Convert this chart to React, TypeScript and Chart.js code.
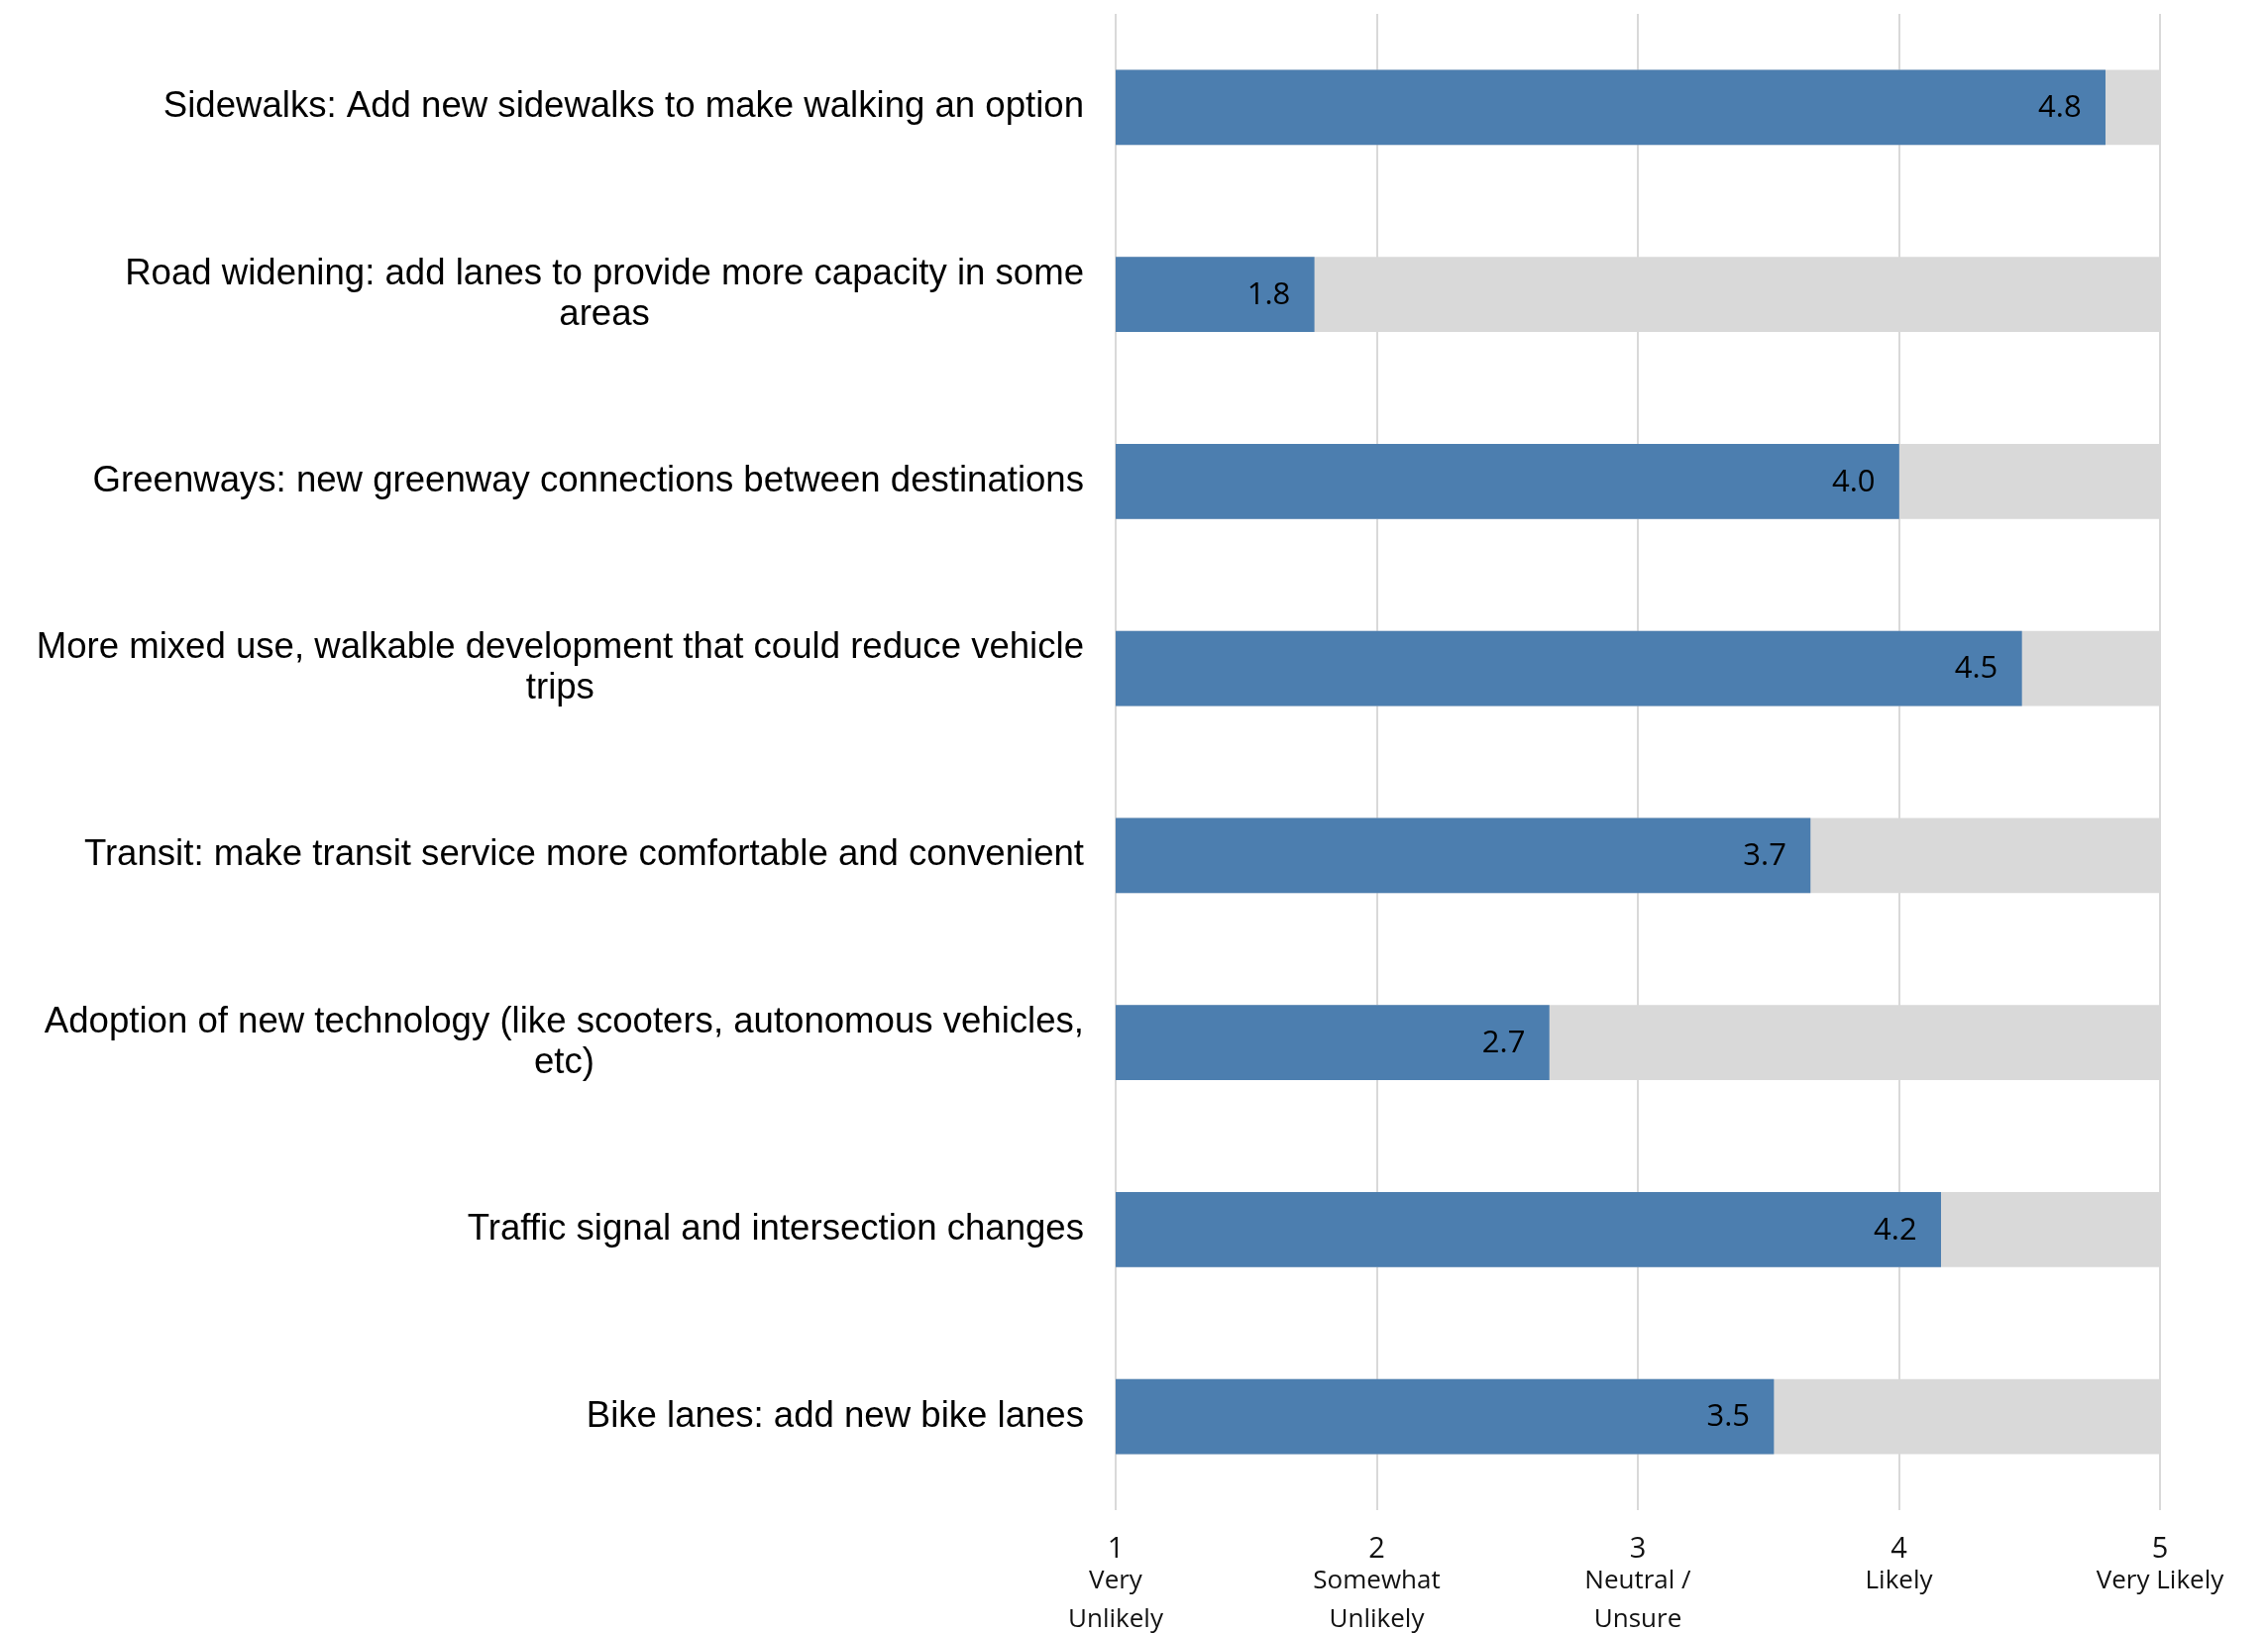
import React, { useEffect, useRef } from "react";
import { Chart, registerables } from "chart.js";

Chart.register(...registerables);

const categories: (string | string[])[] = [
  "Sidewalks: Add new sidewalks to make walking an option",
  ["Road widening: add lanes to provide more capacity in some", "areas"],
  "Greenways: new greenway connections between destinations",
  ["More mixed use, walkable development that could reduce vehicle", "trips"],
  "Transit: make transit service more comfortable and convenient",
  ["Adoption of new technology (like scooters, autonomous vehicles,", "etc)"],
  "Traffic signal and intersection changes",
  "Bike lanes: add new bike lanes",
];

const scores = [4.79, 1.76, 4.0, 4.47, 3.66, 2.66, 4.16, 3.52];
const scaleMax = [5, 5, 5, 5, 5, 5, 5, 5];

const tickValues = [1, 2, 3, 4, 5];
const tickLabels: string[][] = [
  ["Very", "Unlikely"],
  ["Somewhat", "Unlikely"],
  ["Neutral /", "Unsure"],
  ["Likely"],
  ["Very Likely"],
];

const BLUE = "#4c7eaf";
const GRAY = "#d9d9d9";

const valueLabels = {
  id: "valueLabels",
  afterDatasetsDraw(chart: any) {
    const ctx = chart.ctx;
    const meta = chart.getDatasetMeta(0);
    ctx.save();
    ctx.font = '31px "Open Sans"';
    ctx.fillStyle = "#000";
    ctx.textAlign = "right";
    ctx.textBaseline = "middle";
    meta.data.forEach((el: any, i: number) => {
      ctx.fillText(scores[i].toFixed(1), el.x - 24, el.y + 1);
    });
    ctx.restore();
  },
};

const categoryLabels = {
  id: "categoryLabels",
  afterDraw(chart: any) {
    const ctx = chart.ctx;
    const yScale = chart.scales.y;
    const right = chart.chartArea.left - 32;
    ctx.save();
    ctx.font = '36.6px "Liberation Sans"';
    ctx.fillStyle = "#000";
    ctx.textAlign = "center";
    ctx.textBaseline = "middle";
    const lh = 41;
    categories.forEach((lab, i) => {
      const lines = Array.isArray(lab) ? lab : [lab];
      const w = Math.max(...lines.map((l) => ctx.measureText(l).width));
      const cx = right - w / 2;
      const cy = yScale.getPixelForValue(i);
      lines.forEach((l, j) => {
        ctx.fillText(l, cx, cy + (j - (lines.length - 1) / 2) * lh);
      });
    });
    ctx.restore();
  },
};

const xTickLabels = {
  id: "xTickLabels",
  afterDraw(chart: any) {
    const ctx = chart.ctx;
    const xScale = chart.scales.x;
    const bottom = chart.chartArea.bottom;
    ctx.save();
    ctx.fillStyle = "#111";
    ctx.textAlign = "center";
    ctx.textBaseline = "middle";
    tickValues.forEach((v, i) => {
      const px = xScale.getPixelForValue(v);
      ctx.font = '29px "Open Sans"';
      ctx.fillText(String(v), px, bottom + 40);
      ctx.font = '26px "Open Sans"';
      const offs = [72, 111];
      tickLabels[i].forEach((w, j) => {
        ctx.fillText(w, px, bottom + offs[j]);
      });
    });
    ctx.restore();
  },
};

export default function App() {
  const ref = useRef<HTMLCanvasElement | null>(null);

  useEffect(() => {
    if (!ref.current) return;
    const chart = new Chart(ref.current, {
      type: "bar",
      data: {
        labels: categories.map((c, i) => String(i)),
        datasets: [
          {
            data: scores,
            backgroundColor: BLUE,
            grouped: false,
            barThickness: 75,
          } as any,
          {
            data: scaleMax,
            backgroundColor: GRAY,
            grouped: false,
            barThickness: 75,
          } as any,
        ],
      },
      options: {
        indexAxis: "y",
        responsive: false,
        animation: false,
        layout: { padding: { top: 14, right: 109, left: 0, bottom: 0 } },
        plugins: {
          legend: { display: false },
          tooltip: { enabled: false },
        },
        scales: {
          x: {
            type: "linear",
            position: "bottom",
            min: 1,
            max: 5,
            afterBuildTicks: (scale: any) => {
              scale.ticks = tickValues.map((v) => ({ value: v }));
            },
            afterFit: (scale: any) => {
              scale.height = 124;
            },
            ticks: { display: false },
            grid: { color: GRAY, lineWidth: 2, drawTicks: false },
            border: { display: false },
          },
          y: {
            type: "category",
            afterFit: (scale: any) => {
              scale.width = 1126;
            },
            ticks: { display: false },
            grid: { display: false },
            border: { display: false },
          },
        },
      },
      plugins: [valueLabels, categoryLabels, xTickLabels],
    } as any);
    return () => chart.destroy();
  }, []);

  return (
    <div style={{ position: "absolute", left: 0, top: 0, width: 2289, height: 1648 }}>
      <canvas ref={ref} width={2289} height={1648} style={{ display: "block" }} />
    </div>
  );
}
